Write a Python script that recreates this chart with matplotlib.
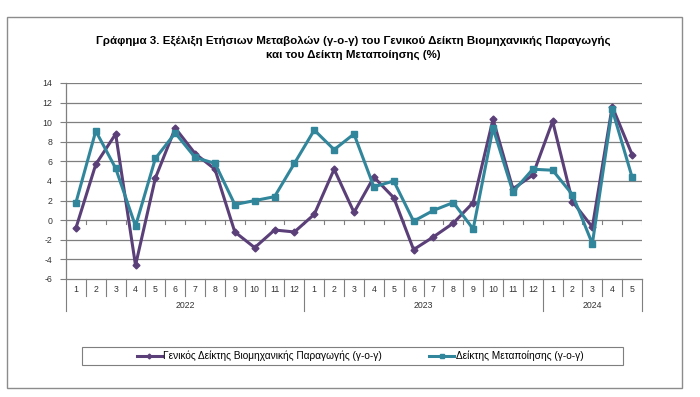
import matplotlib
matplotlib.use("Agg")
import matplotlib.pyplot as plt
import matplotlib.transforms as mtransforms
from matplotlib.patches import Rectangle
import numpy as np

plt.rcParams['font.family'] = ['Liberation Sans', 'DejaVu Sans']
plt.rcParams['axes.unicode_minus'] = False

TITLE = ("Γράφημα 3. Εξέλιξη Ετήσιων Μεταβολών (γ-ο-γ) του Γενικού Δείκτη Βιομηχανικής Παραγωγής\n"
         "και του Δείκτη Μεταποίησης (%)")

months = [1, 2, 3, 4, 5, 6, 7, 8, 9, 10, 11, 12,
          1, 2, 3, 4, 5, 6, 7, 8, 9, 10, 11, 12,
          1, 2, 3, 4, 5]
years = ['2022', '2023', '2024']
year_len = [12, 12, 5]

general = [-0.8, 5.7, 8.8, -4.6, 4.3, 9.4, 6.8, 5.2, -1.2, -2.8, -1.0, -1.2,
           0.6, 5.2, 0.8, 4.4, 2.3, -3.0, -1.7, -0.3, 1.8, 10.3, 3.2, 4.6,
           10.1, 1.9, -0.7, 11.6, 6.7]
manuf = [1.8, 9.1, 5.3, -0.6, 6.3, 8.9, 6.4, 5.8, 1.6, 2.0, 2.4, 5.8,
         9.2, 7.2, 8.8, 3.4, 4.0, -0.1, 1.0, 1.8, -0.9, 9.4, 2.9, 5.2,
         5.1, 2.6, -2.4, 11.3, 4.4]

label_gen = "Γενικός Δείκτης Βιομηχανικής Παραγωγής (γ-ο-γ)"
label_man = "Δείκτης Μεταποίησης (γ-ο-γ)"

PURPLE = '#5b3f78'
TEAL = '#31869b'
GRID = '#7f7f7f'

fig = plt.figure(figsize=(7, 3.97), dpi=100)
# outer chart frame
fig.patches.append(Rectangle((7 / 700, 1 - 388 / 397), 675 / 700, 371 / 397,
                             transform=fig.transFigure, fill=False,
                             edgecolor='#8c8c8c', lw=1.0))
fig.text(353 / 700, 1 - 48 / 397, TITLE, ha='center', va='center', fontsize=8.25,
         fontweight='bold', linespacing=1.45)

ax = fig.add_axes([66 / 700, 1 - 279 / 397, 576 / 700, 196 / 397])
x = np.arange(len(months))

ax.plot(x, general, color=PURPLE, lw=2.2, marker='D', ms=3.5, label=label_gen, zorder=3)
ax.plot(x, manuf, color=TEAL, lw=2.2, marker='s', ms=4, label=label_man, zorder=3)

ax.set_xlim(-0.5, len(months) - 0.5)
ax.set_ylim(-6, 14)
ax.set_yticks(np.arange(-6, 15, 2))
ax.tick_params(axis='y', labelsize=6.3, length=4, direction='out', color=GRID, pad=6,
               labelcolor='#333333')
ax.set_xticks([])
for v in np.arange(-4, 15, 2):
    ax.axhline(v, color=GRID, lw=0.9, zorder=1)
for s in ['top', 'right']:
    ax.spines[s].set_visible(False)
ax.spines['left'].set_color(GRID)
ax.spines['bottom'].set_color(GRID)
ax.spines['left'].set_linewidth(0.9)
ax.spines['bottom'].set_linewidth(0.9)

# zero axis with small ticks between categories
for b in np.arange(-0.5, len(months), 1.0):
    ax.plot([b, b], [0, -0.35], color=GRID, lw=0.8, zorder=1)

# category labels below the plot
trans = mtransforms.blended_transform_factory(ax.transData, ax.transAxes)
for i, m in enumerate(months):
    ax.text(i, -0.052, str(m), transform=trans, ha='center', va='center', fontsize=6.3, color='#333333')
year_bounds = np.cumsum([0] + year_len)
for b in np.arange(-0.5, len(months), 1.0):
    is_year = (b + 0.5) in year_bounds
    end = -0.165 if is_year else -0.085
    ax.plot([b, b], [0, end], transform=trans, color=GRID, lw=0.8, clip_on=False)
for yr, a, n in zip(years, year_bounds[:-1], year_len):
    ax.text(a + n / 2 - 0.5, -0.135, yr, transform=trans, ha='center', va='center',
            fontsize=6.3, color='#333333')

# legend box
fig.patches.append(Rectangle((82 / 700, 1 - 365 / 397), 541 / 700, 18 / 397,
                             transform=fig.transFigure, fill=False,
                             edgecolor='#7f7f7f', lw=0.8))
fig.legend(loc='center', ncol=2, bbox_to_anchor=(360 / 700, 1 - 356 / 397),
           fontsize=7.3, frameon=False, handlelength=2.5, handletextpad=0.15,
           columnspacing=4.6, markerscale=0.7)

fig.savefig('out.png', dpi=100)
